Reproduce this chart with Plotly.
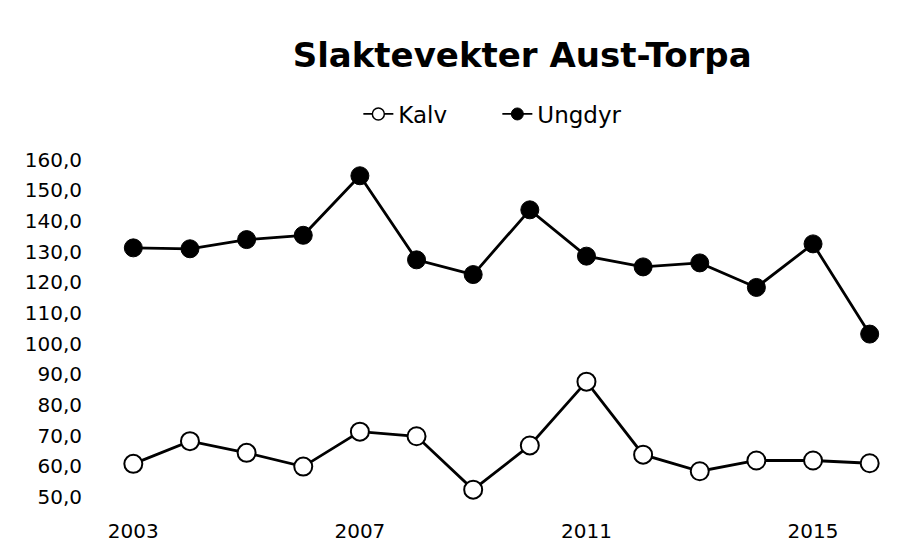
import plotly.graph_objects as go

years = list(range(2003, 2017))
kalv = [60.8, 68.2, 64.4, 59.9, 71.3, 69.8, 52.4, 66.8, 87.6, 63.8, 58.4, 61.9, 61.9, 61.0]
ungdyr = [131.2, 130.9, 133.9, 135.3, 154.7, 127.3, 122.5, 143.6, 128.5, 125.0, 126.3, 118.3, 132.5, 103.1]
y_ticks = [50, 60, 70, 80, 90, 100, 110, 120, 130, 140, 150, 160]
y_labels = ["50,0", "60,0", "70,0", "80,0", "90,0", "100,0", "110,0", "120,0", "130,0", "140,0", "150,0", "160,0"]
x_ticks = [2003, 2007, 2011, 2015]

FONT = "DejaVu Sans"

fig = go.Figure()
fig.add_trace(go.Scatter(
    x=years, y=kalv, name="Kalv", mode="lines+markers", showlegend=False, cliponaxis=False,
    line=dict(color="black", width=2.8),
    marker=dict(symbol="circle", size=18, color="white", line=dict(color="black", width=2)),
))
fig.add_trace(go.Scatter(
    x=years, y=ungdyr, name="Ungdyr", mode="lines+markers", showlegend=False, cliponaxis=False,
    line=dict(color="black", width=2.8),
    marker=dict(symbol="circle", size=18, color="black", line=dict(color="black", width=1)),
))
# legend entries (smaller symbols, as in the reference legend)
fig.add_trace(go.Scatter(
    x=[None], y=[None], name="Kalv", mode="lines+markers",
    line=dict(color="black", width=1.8),
    marker=dict(symbol="circle", size=12, color="white", line=dict(color="black", width=1.5)),
))
fig.add_trace(go.Scatter(
    x=[None], y=[None], name="Ungdyr", mode="lines+markers",
    line=dict(color="black", width=1.8),
    marker=dict(symbol="circle", size=12, color="black", line=dict(color="black", width=1)),
))

fig.update_layout(
    width=910, height=551,
    paper_bgcolor="white", plot_bgcolor="white",
    margin=dict(l=97, r=20, t=149, b=62),
    title=dict(text="<b>Slaktevekter Aust-Torpa</b>", x=0.565, xanchor="center", xref="container",
               y=0.915, yanchor="middle", yref="container",
               font=dict(family=FONT, size=34, color="black")),
    legend=dict(orientation="h", x=0.385, xanchor="left", xref="container",
                y=0.8076, yanchor="middle", yref="container",
                font=dict(family=FONT, size=23, color="black"), itemwidth=30,
                entrywidth=94, entrywidthmode="pixels",
                bgcolor="rgba(0,0,0,0)"),
    showlegend=True,
)
fig.update_xaxes(range=[2002.5, 2016.5], tickvals=x_ticks, ticktext=[str(v) for v in x_ticks],
                 showgrid=False, zeroline=False, showline=False, ticks="",
                 tickfont=dict(family=FONT, size=20, color="black"), ticklabelstandoff=20)
fig.update_yaxes(range=[50, 160], tickvals=y_ticks, ticktext=y_labels,
                 showgrid=False, zeroline=False, showline=False, ticks="",
                 tickfont=dict(family=FONT, size=20, color="black"), ticklabelstandoff=22)

fig.write_html("out.html")
